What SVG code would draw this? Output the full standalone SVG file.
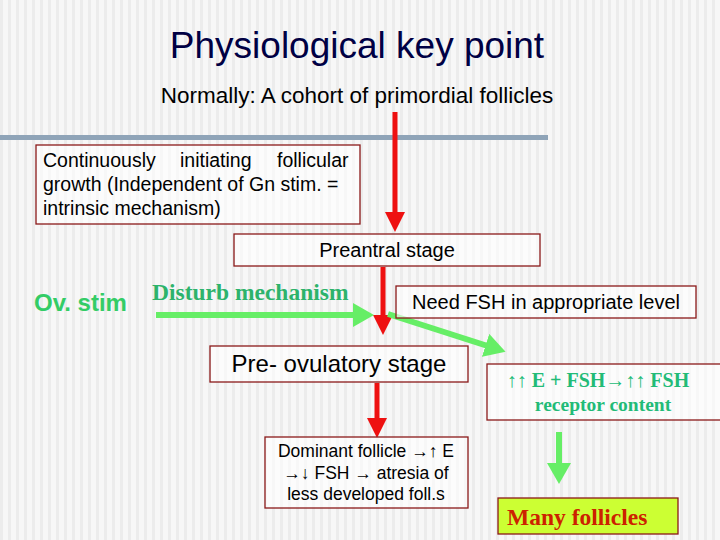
<svg xmlns="http://www.w3.org/2000/svg" width="720" height="540" viewBox="0 0 720 540">
<defs>
<pattern id="st" width="8" height="8" patternUnits="userSpaceOnUse"><rect width="8" height="8" fill="#f7f7f7"/><rect width="3" height="8" fill="#ececec"/></pattern>
<marker id="rh" markerWidth="4" markerHeight="4" refX="2" refY="2" orient="auto" markerUnits="strokeWidth"><path d="M0,0 L4,2 L0,4z" fill="#ee1111"/></marker>
<marker id="gh" markerWidth="3.5" markerHeight="4" refX="2" refY="2" orient="auto" markerUnits="strokeWidth"><path d="M0,0 L3.5,2 L0,4z" fill="#66ee66"/></marker>
</defs>
<style>
.b{fill:#fff;fill-opacity:0.6;stroke:#8b1a1a;stroke-width:1.3}
.t{font-family:"Liberation Sans",Arial,sans-serif;fill:#000}
.tm{font-family:"Liberation Serif","Times New Roman",serif;font-weight:bold}
.r{stroke:#ee1111;stroke-width:5;marker-end:url(#rh)}
.g{stroke:#66ee66;stroke-width:6;marker-end:url(#gh)}
</style>
<rect width="720" height="540" fill="url(#st)"/>
<rect x="0" y="135" width="548" height="5" fill="#8fa4b8"/>
<text class="t" x="357" y="58" font-size="37" text-anchor="middle" style="fill:#000044">Physiological key point</text>
<text class="t" x="357" y="103" font-size="22.5" text-anchor="middle">Normally: A cohort of primordial follicles</text>
<g id="connectors">
<line class="r" x1="395" y1="112" x2="395" y2="222"/>
<line class="r" x1="383" y1="267" x2="383" y2="325"/>
<line class="r" x1="377" y1="383" x2="377" y2="428"/>
<line class="g" x1="156" y1="315" x2="365" y2="315"/>
<line class="g" x1="388" y1="314" x2="497" y2="349"/>
<line class="g" x1="559" y1="432" x2="559" y2="475"/>
</g>
<g id="n1"><rect class="b" x="36" y="145" width="324" height="79"/>
<text class="t" font-size="19.5"><tspan x="43" y="167">Continuously</tspan><tspan x="180" y="167">initiating</tspan><tspan x="277" y="167">follicular</tspan><tspan x="43" y="191">growth (Independent of Gn stim. =</tspan><tspan x="43" y="215">intrinsic mechanism)</tspan></text></g>
<g id="n2"><rect class="b" x="234" y="234" width="306" height="32"/><text class="t" x="387" y="257" font-size="20" text-anchor="middle">Preantral stage</text></g>
<g id="n3"><text class="t" x="34" y="311" font-size="24" font-weight="bold" style="fill:#33cc66">Ov. stim</text></g>
<g id="n4"><text class="tm" x="152" y="300" font-size="23.5" fill="#2db36b">Disturb mechanism</text></g>
<g id="n5"><rect class="b" x="396" y="286" width="300" height="32"/><text class="t" x="546" y="309" font-size="20" text-anchor="middle">Need FSH in appropriate level</text></g>
<g id="n6"><rect class="b" x="210" y="346" width="258" height="36"/><text class="t" x="339" y="372" font-size="24" text-anchor="middle">Pre- ovulatory stage</text></g>
<g id="n7"><rect class="b" x="487" y="364" width="240" height="56"/>
<text class="tm" x="598" y="387" font-size="20" text-anchor="middle" fill="#22bb77">↑↑ E + FSH→↑↑ FSH</text>
<text class="tm" x="603" y="411" font-size="19.5" text-anchor="middle" fill="#22bb77">receptor content</text></g>
<g id="n8"><rect class="b" x="265" y="437" width="203" height="71"/>
<text class="t" font-size="17.5" text-anchor="middle"><tspan x="366" y="457">Dominant follicle →↑ E</tspan><tspan x="366" y="479">→↓ FSH → atresia of</tspan><tspan x="366" y="500">less developed foll.s</tspan></text></g>
<g id="n9"><rect x="498" y="498" width="180" height="36" fill="#ccff33" stroke="#8b1a1a" stroke-width="1.3"/><text class="tm" x="507" y="525" font-size="23.5" fill="#cc2200">Many follicles</text></g>
</svg>
